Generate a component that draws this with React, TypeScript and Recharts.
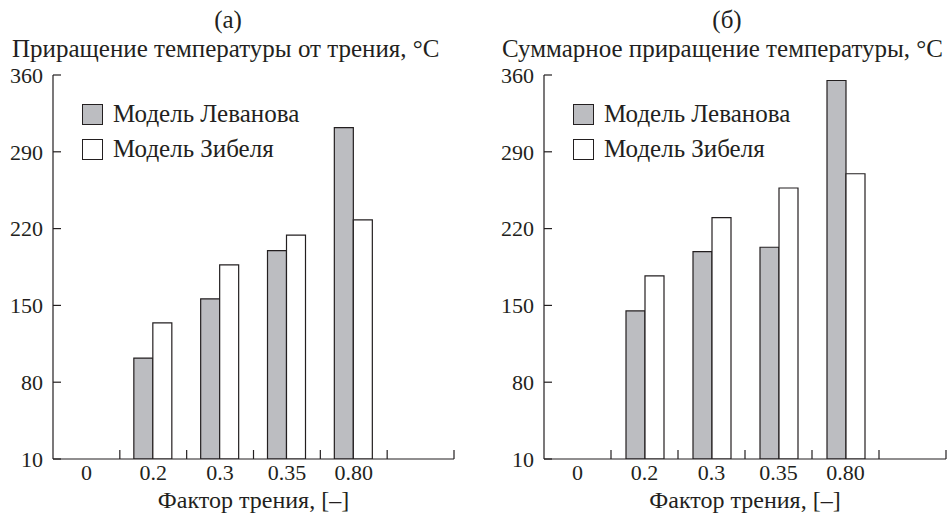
import { BarChart, Bar, XAxis, YAxis, Legend } from "recharts";

const factors = ["0", "0.2", "0.3", "0.35", "0.80", ""];
const frictionLevanov = [null, 102, 156, 200, 312, null];
const frictionSiebel = [null, 134, 187, 214, 228, null];
const totalLevanov = [null, 145, 199, 203, 355, null];
const totalSiebel = [null, 177, 230, 257, 270, null];
const yTicks = [10, 80, 150, 220, 290, 360];
const seriesNames = ["Модель Леванова", "Модель Зибеля"];

const W = 474;
const H = 513;
const FONT = "'Liberation Serif', 'Times New Roman', serif";
const INK = "#231f20";
const GREY = "#bcbdc1";
const Y_AXIS_W = 53;
const X_TICK_MARGIN = 5;

const renderLegend = (props: any) => {
  const items = [...(props.payload || [])].sort(
    (a: any, b: any) => seriesNames.indexOf(a.value) - seriesNames.indexOf(b.value)
  );
  return (
    <div style={{ fontFamily: FONT, color: INK, fontSize: 25 }}>
      {items.map((p: any) => (
        <div key={p.value} style={{ display: "flex", alignItems: "center", height: 22, marginBottom: 13 }}>
          <span
            style={{
              width: 19,
              height: 19,
              border: `1.5px solid ${INK}`,
              background: p.color,
              marginRight: 10,
              display: "inline-block",
              flex: "none",
            }}
          />
          <span style={{ whiteSpace: "nowrap" }}>{p.value}</span>
        </div>
      ))}
    </div>
  );
};

const YTick = (props: any) => {
  const { x, y, payload } = props;
  const axisX = x + 10;
  return (
    <g>
      <text x={x} y={y} dy="0.355em" textAnchor="end" fontSize={22} fontFamily={FONT} fill={INK}>
        {payload.value}
      </text>
      <line x1={axisX} x2={axisX + 8} y1={y} y2={y} stroke={INK} strokeWidth={1.2} />
    </g>
  );
};

function makeXTick(band: number) {
  return (props: any) => {
    const { x, y, payload } = props;
    const axisY = y - X_TICK_MARGIN;
    return (
      <g>
        <text x={x} y={y} dy="0.71em" textAnchor="middle" fontSize={22} fontFamily={FONT} fill={INK}>
          {payload.value}
        </text>
        <line x1={x + band / 2} x2={x + band / 2} y1={axisY} y2={axisY - 9} stroke={INK} strokeWidth={1.2} />
      </g>
    );
  };
}

type PanelProps = {
  letter: string;
  letterX: number;
  title: string;
  titleX: number;
  levanov: (number | null)[];
  siebel: (number | null)[];
  left: number;
  right: number;
};

function Panel({ letter, letterX, title, titleX, levanov, siebel, left, right }: PanelProps) {
  const data = factors.map((f, i) => ({ factor: f, levanov: levanov[i], siebel: siebel[i] }));
  const band = (W - left - right - Y_AXIS_W) / factors.length;
  return (
    <BarChart
      width={W}
      height={H}
      data={data}
      margin={{ top: 75, right, bottom: 0, left }}
      barGap={0}
      barSize={19}
    >
      <text x={letterX} y={28} textAnchor="middle" fontSize={25} fontFamily={FONT} fill={INK}>
        {letter}
      </text>
      <text x={titleX} y={57} fontSize={25} fontFamily={FONT} fill={INK}>
        {title}
      </text>
      <XAxis
        dataKey="factor"
        interval={0}
        height={54}
        tickLine={false}
        tickSize={0}
        tickMargin={X_TICK_MARGIN}
        axisLine={{ stroke: INK, strokeWidth: 1.2 }}
        tick={makeXTick(band)}
        label={{
          value: "Фактор трения, [–]",
          position: "insideBottom",
          offset: 5,
          fontSize: 24,
          fontFamily: FONT,
          fill: INK,
        }}
      />
      <YAxis
        width={Y_AXIS_W}
        domain={[10, 360]}
        ticks={yTicks}
        allowDataOverflow
        tickLine={false}
        tickSize={0}
        tickMargin={10}
        axisLine={{ stroke: INK, strokeWidth: 1.2 }}
        tick={YTick}
      />
      <Legend
        layout="horizontal"
        verticalAlign="middle"
        align="center"
        wrapperStyle={{ top: 103, left: left + Y_AXIS_W + 29, width: "auto" }}
        content={renderLegend}
      />
      <Bar dataKey="levanov" name={seriesNames[0]} fill={GREY} stroke={INK} strokeWidth={1.2} isAnimationActive={false} />
      <Bar dataKey="siebel" name={seriesNames[1]} fill="#ffffff" stroke={INK} strokeWidth={1.2} isAnimationActive={false} />
    </BarChart>
  );
}

export default function App() {
  return (
    <div style={{ position: "absolute", left: 0, top: 0, width: 948, height: 513, display: "flex", background: "#fff" }}>
      <Panel
        letter="(а)"
        letterX={228}
        title="Приращение температуры от трения, °C"
        titleX={12}
        levanov={frictionLevanov}
        siebel={frictionSiebel}
        left={0}
        right={20}
      />
      <Panel
        letter="(б)"
        letterX={253}
        title="Суммарное приращение температуры, °C"
        titleX={28}
        levanov={totalLevanov}
        siebel={totalSiebel}
        left={17}
        right={2}
      />
    </div>
  );
}
